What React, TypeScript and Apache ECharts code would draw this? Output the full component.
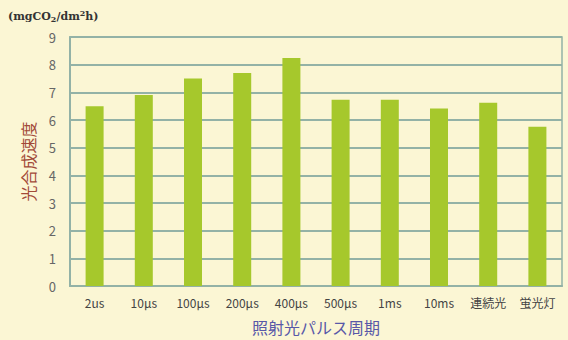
import React, { useEffect, useRef } from "react";
import * as echarts from "echarts";

const categories = ["2us", "10μs", "100μs", "200μs", "400μs", "500μs", "1ms", "10ms", "連続光", "蛍光灯"];
const rates = [6.5, 6.9, 7.5, 7.7, 8.24, 6.73, 6.73, 6.42, 6.62, 5.76];
const yTicks = { min: 0, max: 9, interval: 1 };

const gridColor = "#93B2A6";
const bg = "#FBF6D4";

export default function App() {
  const ref = useRef<HTMLDivElement>(null);

  useEffect(() => {
    const chart = echarts.init(ref.current!, null, { renderer: "svg" });
    chart.setOption({
      animation: false,
      backgroundColor: bg,
      textStyle: { fontFamily: "'Noto Sans CJK JP', 'Noto Sans', sans-serif" },
      grid: {
        left: 70,
        right: 6,
        top: 37,
        bottom: 54,
        show: true,
        borderColor: gridColor,
        borderWidth: 1.5,
      },
      graphic: [
        {
          type: "text",
          left: 8,
          top: 9,
          style: {
            text: "(mgCO{sub|2}/dm{sup|2}h)",
            font: "bold 11px 'DejaVu Serif', serif",
            fill: "#333",
            rich: {
              sub: { fontSize: 8, fontFamily: "DejaVu Serif", fontWeight: "bold", verticalAlign: "bottom", padding: [6, 0, 0, 0], fill: "#333" },
              sup: { fontSize: 8, fontFamily: "DejaVu Serif", fontWeight: "bold", verticalAlign: "top", padding: [0, 0, 5, 0], fill: "#333" },
            },
          },
        },
      ],
      xAxis: {
        type: "category",
        data: categories,
        boundaryGap: true,
        axisLine: { show: true, lineStyle: { color: gridColor, width: 2 } },
        axisTick: { show: false },
        axisLabel: { color: "#444", fontSize: 12, margin: 10, interval: 0 },
        name: "照射光パルス周期",
        nameLocation: "middle",
        nameGap: 33,
        nameTextStyle: { color: "#5858A8", fontSize: 16 },
      },
      yAxis: {
        type: "value",
        min: yTicks.min,
        max: yTicks.max,
        interval: yTicks.interval,
        axisLine: { show: true, lineStyle: { color: gridColor, width: 2 } },
        axisTick: { show: false },
        axisLabel: { color: "#666", fontSize: 13, margin: 14 },
        splitLine: { show: true, lineStyle: { color: gridColor, width: 2 } },
        name: "光合成速度",
        nameLocation: "middle",
        nameRotate: 90,
        nameGap: 34,
        nameTextStyle: { color: "#A24A38", fontSize: 16 },
      },
      series: [
        {
          type: "bar",
          data: rates,
          barWidth: 18,
          itemStyle: { color: "#A6C82C" },
        },
      ],
    });
    return () => chart.dispose();
  }, []);

  return (
    <div
      ref={ref}
      style={{ position: "fixed", left: 0, top: 0, width: 568, height: 340, background: bg }}
    />
  );
}
